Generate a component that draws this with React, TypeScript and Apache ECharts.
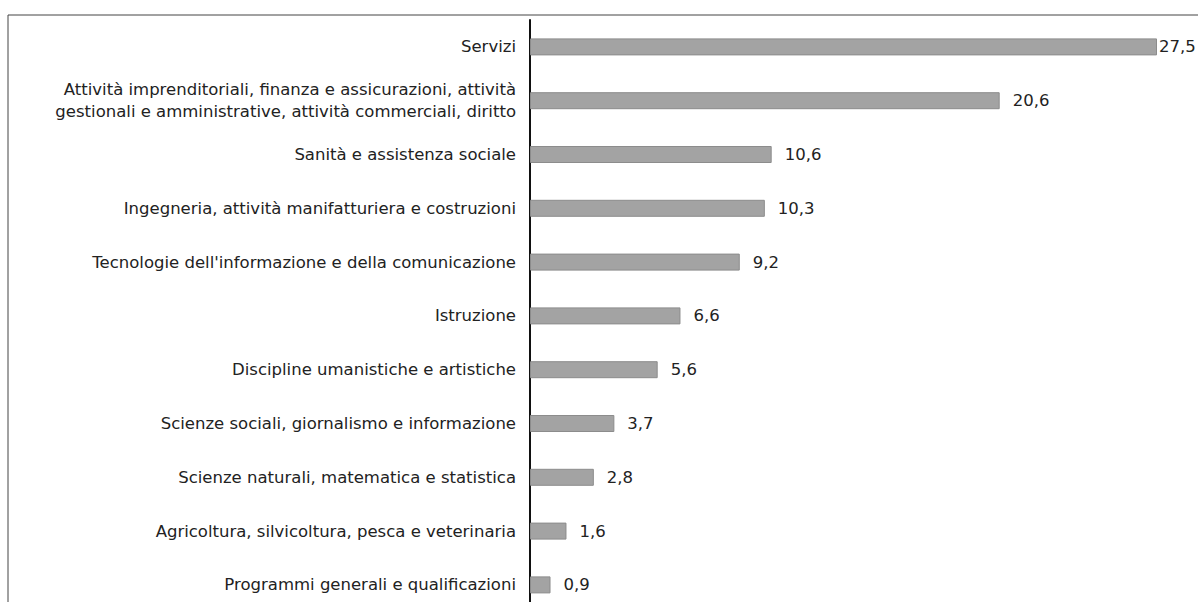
import React, { useEffect, useRef } from "react";
import * as echarts from "echarts";

const categories = [
  "Servizi",
  "Attività imprenditoriali, finanza e assicurazioni, attività\ngestionali e amministrative, attività commerciali, diritto",
  "Sanità e assistenza sociale",
  "Ingegneria, attività manifatturiera e costruzioni",
  "Tecnologie dell'informazione e della comunicazione",
  "Istruzione",
  "Discipline umanistiche e artistiche",
  "Scienze sociali, giornalismo e informazione",
  "Scienze naturali, matematica e statistica",
  "Agricoltura, silvicoltura, pesca e veterinaria",
  "Programmi generali e qualificazioni",
];
const values = [27.5, 20.6, 10.6, 10.3, 9.2, 6.6, 5.6, 3.7, 2.8, 1.6, 0.9];

export default function App() {
  const ref = useRef<HTMLDivElement>(null);
  useEffect(() => {
    if (!ref.current) return;
    const chart = echarts.init(ref.current, null, { renderer: "svg" });
    chart.setOption({
      animation: false,
      backgroundColor: "#ffffff",
      grid: {
        left: 530,
        top: 20,
        width: 30 * 22.8,
        height: 11 * 53.8,
        outerBoundsMode: "none",
        containLabel: false,
      },
      xAxis: {
        type: "value",
        min: 0,
        max: 30,
        show: false,
      },
      yAxis: {
        type: "category",
        inverse: true,
        data: categories,
        axisLine: { show: true, lineStyle: { color: "#111", width: 2 } },
        axisTick: { show: false },
        axisLabel: {
          margin: 14,
          color: "#222",
          fontFamily: "DejaVu Sans",
          fontSize: 16.5,
          lineHeight: 22,
          align: "right",
        },
      },
      series: [
        {
          type: "bar",
          data: values.map((v, i) =>
            i === 0 ? { value: v, label: { distance: 2 } } : v
          ),
          barWidth: 17,
          itemStyle: { color: "#a3a3a3", borderColor: "#8c8c8c", borderWidth: 1 },
          label: {
            show: true,
            position: "right",
            distance: 13,
            color: "#222",
            fontFamily: "DejaVu Sans",
            fontSize: 16.5,
            formatter: (p: any) => String(p.value).replace(".", ","),
          },
        },
      ],
      graphic: [
        {
          type: "rect",
          shape: { x: 8, y: 15, width: 1400, height: 800 },
          style: { fill: "none", stroke: "#444", lineWidth: 1 },
          silent: true,
        },
      ],
    });
    return () => chart.dispose();
  }, []);
  return (
    <div style={{ position: "fixed", left: 0, top: 0, width: 1198, height: 602, overflow: "hidden", background: "#fff" }}>
      <div ref={ref} style={{ width: 1198, height: 620 }} />
    </div>
  );
}
